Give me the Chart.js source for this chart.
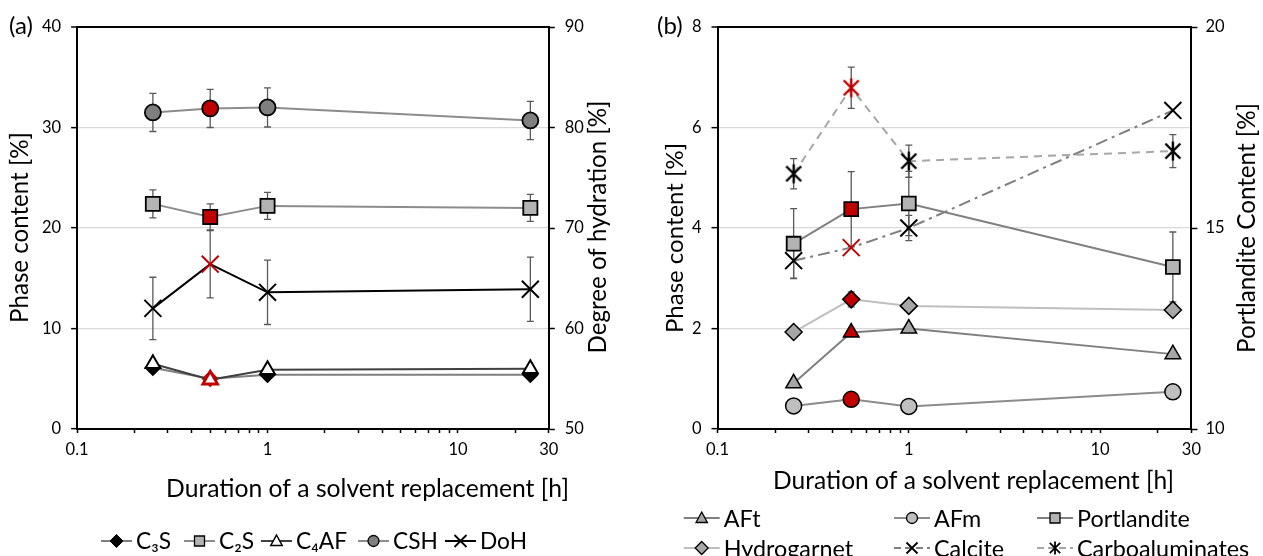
<!DOCTYPE html>
<html><head><meta charset="utf-8">
<script src="https://cdn.jsdelivr.net/npm/chart.js@4"></script>
<style>
html,body{margin:0;padding:0;background:#fff;width:1263px;height:556px;overflow:hidden}
#wa{position:absolute;left:0;top:0;width:631px;height:556px}
#wb{position:absolute;left:631px;top:0;width:632px;height:556px}
</style></head><body>
<div id="wa"><canvas id="ca" width="631" height="556"></canvas></div>
<div id="wb"><canvas id="cb" width="632" height="556"></canvas></div>
<script>
// ---------- data ----------
const durations = [0.25, 0.5, 1, 24];               // h
const xTickValues = [0.1,0.2,0.3,0.4,0.5,0.6,0.7,0.8,0.9,1,2,3,4,5,6,7,8,9,10,20,30];
const xTickLabelled = [0.1, 1, 10, 30];
const yTicksA = [0, 10, 20, 30, 40];
const y2TicksA = [50, 60, 70, 80, 90];
const yTicksB = [0, 2, 4, 6, 8];
const y2TicksB = [10, 15, 20];
const highlightIndex = 1;                            // 0.5 h measurement shown in red

// panel (a)
const c3s = [6.1, 5.0, 5.4, 5.4];
const c2s = [22.4, 21.1, 22.2, 22.0];
const c2sErr = [1.4, 1.3, 1.35, 1.35];
const c4af = [6.5, 4.9, 5.9, 6.0];
const csh = [31.5, 31.9, 32.0, 30.7];
const cshErr = [1.9, 1.9, 1.95, 1.9];
const doh = [62.0, 66.4, 63.6, 63.9];
const dohErr = [3.1, 3.35, 3.2, 3.2];

// panel (b)
const aft = [0.91, 1.92, 2.0, 1.49];
const afm = [0.46, 0.59, 0.45, 0.74];
const portlandite = [14.61, 15.47, 15.61, 14.03];
const portlanditeErr = [0.87, 0.93, 0.8, 0.87];
const hydrogarnet = [1.93, 2.58, 2.45, 2.37];
const hydrogarnetErr = [0, 0.15, 0.1, 0];
const calcite = [3.35, 3.61, 4.0, 6.34];
const calciteErr = [0.35, 0, 0.25, 0];
const carboaluminates = [5.08, 6.79, 5.33, 5.53];
const carboaluminatesErr = [0.3, 0.41, 0.32, 0.33];

const xTitle = 'Duration of a solvent replacement [h]';
const yTitleA = 'Phase content [%]';
const y2TitleA = 'Degree of hydration [%]';
const yTitleB = 'Phase content [%]';
const y2TitleB = 'Portlandite Content [%]';

// ---------- styling helpers ----------
const FAMILY = "Lato, 'Noto Sans', 'DejaVu Sans', sans-serif";
const RED = '#c00000';
Chart.defaults.font.family = FAMILY;
Chart.defaults.color = '#000';

function pts(vals){ return durations.map((x,i)=>({x:x, y:vals[i]})); }
function pp(normal, hl){ return durations.map((_,i)=> i===highlightIndex ? hl : normal); }

function starImg(color){
  const c=document.createElement('canvas'); c.width=22; c.height=22;
  const g=c.getContext('2d'); g.strokeStyle=color; g.lineWidth=2.4;
  g.beginPath(); g.moveTo(3.5,3.5); g.lineTo(18.5,18.5); g.moveTo(18.5,3.5); g.lineTo(3.5,18.5);
  g.moveTo(11,1.5); g.lineTo(11,20.5); g.stroke(); return c;
}

function drawMarker(g, type, x, y, r, fill, stroke, lw){
  g.save(); g.setLineDash([]); g.lineWidth=lw; g.strokeStyle=stroke; g.fillStyle=fill;
  g.beginPath();
  if(type==='circle'){ g.arc(x,y,r,0,Math.PI*2); }
  else if(type==='rect'){ g.rect(x-r,y-r,2*r,2*r); }
  else if(type==='triangle'){ g.moveTo(x,y-r); g.lineTo(x+r*0.95,y+r*0.75); g.lineTo(x-r*0.95,y+r*0.75); g.closePath(); }
  else if(type==='rectRot'){ g.moveTo(x,y-r); g.lineTo(x+r,y); g.lineTo(x,y+r); g.lineTo(x-r,y); g.closePath(); }
  else if(type==='crossRot'){ g.moveTo(x-r,y-r); g.lineTo(x+r,y+r); g.moveTo(x+r,y-r); g.lineTo(x-r,y+r); }
  else if(type==='star'){ g.moveTo(x-r*0.8,y-r*0.8); g.lineTo(x+r*0.8,y+r*0.8); g.moveTo(x+r*0.8,y-r*0.8); g.lineTo(x-r*0.8,y+r*0.8); g.moveTo(x,y-r); g.lineTo(x,y+r); }
  if(type!=='crossRot' && type!=='star') g.fill();
  g.stroke(); g.restore();
}

function fitSize(g, text, w){ g.font = '100px ' + FAMILY; return 100*w/g.measureText(text).width; }

// error bars drawn through the library's scales
const errorBars = {
  id:'errorBars',
  beforeDatasetsDraw(chart){
    const g=chart.ctx, xs=chart.scales.x;
    chart.data.datasets.forEach(ds=>{
      if(!ds.err) return;
      const ys=chart.scales[ds.yAxisID];
      g.save(); g.strokeStyle='#595959'; g.lineWidth=1.3; g.setLineDash([]);
      ds.data.forEach((p,i)=>{
        const e=ds.err[i]; if(!e) return;
        const px=xs.getPixelForValue(p.x), t=ys.getPixelForValue(p.y+e), b=ys.getPixelForValue(p.y-e);
        g.beginPath(); g.moveTo(px,t); g.lineTo(px,b);
        g.moveTo(px-3.5,t); g.lineTo(px+3.5,t); g.moveTo(px-3.5,b); g.lineTo(px+3.5,b); g.stroke();
      });
      g.restore();
    });
  }
};

// titles, panel letters and legend
const decor = {
  id:'decor',
  afterDraw(chart, args, o){
    const g=chart.ctx;
    g.save(); g.fillStyle='#000';
    g.font = o.panelSize+'px '+FAMILY; g.textAlign='left'; g.textBaseline='middle';
    g.fillText(o.panel, o.panelX, o.panelY);
    g.textBaseline='alphabetic'; g.textAlign='center';
    let s=fitSize(g, xTitle, o.xTitleW); g.font=s+'px '+FAMILY; g.fillText(xTitle, o.xTitleX, o.xTitleY);
    o.yTitles.forEach(t=>{
      const sz=fitSize(g, t.text, t.w);
      g.save(); g.translate(t.x, t.y); g.rotate(-Math.PI/2); g.font=sz+'px '+FAMILY; g.fillText(t.text,0,0); g.restore();
    });
    // legend
    const ls = fitSize(g, o.legendFit.text, o.legendFit.w);
    o.legend.forEach(it=>{
      const ds=chart.data.datasets[it.ds], lg=ds.lg;
      g.save(); g.strokeStyle=ds.borderColor; g.lineWidth=2; g.setLineDash(lg.dash||[]);
      g.beginPath(); g.moveTo(it.x, it.y); g.lineTo(it.x+o.iconW, it.y); g.stroke(); g.restore();
      drawMarker(g, lg.type, it.x+o.iconW/2, it.y, lg.r, lg.fill, lg.stroke, lg.lw);
      g.font=ls+'px '+FAMILY; g.textAlign='left'; g.textBaseline='middle';
      g.fillText(ds.label, it.x+o.iconW+o.gap, it.y+1);
    });
    g.restore();
  }
};

function xScale(){
  return {
    type:'logarithmic', min:0.1, max:30,
    afterBuildTicks:(s)=>{ s.ticks = xTickValues.map(v=>({value:v, major:xTickLabelled.includes(v)})); },
    ticks:{ autoSkip:false, maxRotation:0, minRotation:0, padding:7, font:{size:16.5}, color:'#000',
      callback:(v)=> xTickLabelled.some(t=>Math.abs(t-v)<1e-9) ? String(v) : '' },
    grid:{ drawOnChartArea:false, drawTicks:true, tickLength:4, tickColor:'#000', tickWidth:1.5 },
    border:{ color:'#000', width:2 },
    afterFit:(s)=>{ s.height = 127; }
  };
}
function yScale(pos, min, max, tickVals, width, gridOn, pad){
  return {
    type:'linear', position:pos, min:min, max:max,
    afterBuildTicks:(s)=>{ s.ticks = tickVals.map(v=>({value:v})); },
    ticks:{ padding:pad, font:{size:16.5}, color:'#000' },
    grid: gridOn ? {
      drawOnChartArea:true, drawTicks:true, tickLength:6, tickColor:'#000', tickWidth:1.5,
      color:(c)=> c.tick ? (c.tick.value===max ? '#000' : (c.tick.value===min ? 'rgba(0,0,0,0)' : '#d9d9d9')) : '#d9d9d9',
      lineWidth:(c)=> c.tick && c.tick.value===max ? 2 : 1.3
    } : { drawOnChartArea:false, drawTicks:true, tickLength:6, tickColor:'#000', tickWidth:1.5 },
    border:{ color:'#000', width:2 },
    afterFit:(s)=>{ s.width = width; }
  };
}
function baseOptions(scales, decorOpts){
  return {
    responsive:false, animation:false, events:[],
    layout:{ padding:{ top:27, left:0, right:0, bottom:0 } },
    plugins:{ legend:{display:false}, tooltip:{enabled:false}, decor:decorOpts },
    scales:scales,
    elements:{ line:{ tension:0, borderWidth:2 } }
  };
}

// ---------- panel (a) ----------
const dsA = [
  { label:'C\u2083S', data:pts(c3s), yAxisID:'y', order:5, borderColor:'#7f7f7f',
    pointStyle:'rectRot', pointRadius:7.5, pointBorderWidth:1.5,
    pointBackgroundColor:pp('#000',RED), pointBorderColor:pp('#000',RED),
    lg:{type:'rectRot', r:6.5, fill:'#000', stroke:'#000', lw:1} },
  { label:'C\u2082S', data:pts(c2s), err:c2sErr, yAxisID:'y', order:3, borderColor:'#8c8c8c',
    pointStyle:'rect', pointRadius:10, pointBorderWidth:1.8,
    pointBackgroundColor:pp('#b3b3b3',RED), pointBorderColor:'#000',
    lg:{type:'rect', r:5, fill:'#b3b3b3', stroke:'#000', lw:1.3} },
  { label:'C\u2084AF', data:pts(c4af), yAxisID:'y', order:4, borderColor:'#404040',
    pointStyle:'triangle', pointRadius:8.5, pointBorderWidth:pp(2,2.8),
    pointBackgroundColor:'#fff', pointBorderColor:pp('#000',RED),
    lg:{type:'triangle', r:6, fill:'#fff', stroke:'#000', lw:1.5} },
  { label:'CSH', data:pts(csh), err:cshErr, yAxisID:'y', order:2, borderColor:'#8c8c8c',
    pointStyle:'circle', pointRadius:8, pointBorderWidth:1.8,
    pointBackgroundColor:pp('#7f7f7f',RED), pointBorderColor:'#000',
    lg:{type:'circle', r:5.5, fill:'#7f7f7f', stroke:'#000', lw:1.3} },
  { label:'DoH', data:pts(doh), err:dohErr, yAxisID:'y2', order:1, borderColor:'#000',
    pointStyle:'crossRot', pointRadius:12, pointBorderWidth:2,
    pointBackgroundColor:pp('#000',RED), pointBorderColor:pp('#000',RED),
    lg:{type:'crossRot', r:6, fill:'#000', stroke:'#000', lw:1.8} }
];
new Chart(document.getElementById('ca'), {
  type:'line',
  data:{ datasets:dsA },
  options: baseOptions({
      x:xScale(),
      y:yScale('left',0,40,yTicksA,77.1,true,10),
      y2:yScale('right',50,90,y2TicksA,631-548.8,false,10)
    }, {
      panel:'(a)', panelSize:24, panelX:9, panelY:26,
      xTitleX:367.5, xTitleY:497, xTitleW:403,
      yTitles:[ {text:yTitleA, x:27.5, y:227.5, w:191}, {text:y2TitleA, x:606, y:227, w:253} ],
      legendFit:{text:'C\u2084AF', w:51},
      iconW:31, gap:4,
      legend:[ {ds:0,x:101,y:541}, {ds:1,x:184,y:541}, {ds:2,x:261,y:541}, {ds:3,x:358,y:541}, {ds:4,x:445,y:541} ]
    }),
  plugins:[errorBars, decor]
});

// ---------- panel (b) ----------
const starBlack = starImg('#000'), starRed = starImg(RED);
const dsB = [
  { label:'AFt', data:pts(aft), yAxisID:'y', order:4, borderColor:'#7f7f7f',
    pointStyle:'triangle', pointRadius:9, pointBorderWidth:1.5,
    pointBackgroundColor:pp('#a6a6a6',RED), pointBorderColor:'#000',
    lg:{type:'triangle', r:6, fill:'#a6a6a6', stroke:'#000', lw:1.3} },
  { label:'AFm', data:pts(afm), yAxisID:'y', order:5, borderColor:'#8c8c8c',
    pointStyle:'circle', pointRadius:8, pointBorderWidth:1.5,
    pointBackgroundColor:pp('#bfbfbf',RED), pointBorderColor:'#000',
    lg:{type:'circle', r:5.5, fill:'#bfbfbf', stroke:'#000', lw:1.3} },
  { label:'Portlandite', data:pts(portlandite), err:portlanditeErr, yAxisID:'y2', order:1, borderColor:'#808080',
    pointStyle:'rect', pointRadius:9.8, pointBorderWidth:1.8,
    pointBackgroundColor:pp('#b3b3b3',RED), pointBorderColor:'#000',
    lg:{type:'rect', r:5, fill:'#b3b3b3', stroke:'#000', lw:1.3} },
  { label:'Hydrogarnet', data:pts(hydrogarnet), err:hydrogarnetErr, yAxisID:'y', order:3, borderColor:'#bfbfbf',
    pointStyle:'rectRot', pointRadius:8.5, pointBorderWidth:1.5,
    pointBackgroundColor:pp('#a6a6a6',RED), pointBorderColor:'#000',
    lg:{type:'rectRot', r:6.5, fill:'#a6a6a6', stroke:'#000', lw:1.3} },
  { label:'Calcite', data:pts(calcite), err:calciteErr, yAxisID:'y', order:2, borderColor:'#7f7f7f', borderDash:[12,5,3,5],
    pointStyle:'crossRot', pointRadius:12, pointBorderWidth:2,
    pointBackgroundColor:pp('#000',RED), pointBorderColor:pp('#000',RED),
    lg:{type:'crossRot', r:5.5, fill:'#000', stroke:'#000', lw:1.8, dash:[7,4]} },
  { label:'Carboaluminates', data:pts(carboaluminates), err:carboaluminatesErr, yAxisID:'y', order:0, borderColor:'#a6a6a6', borderDash:[8,6],
    pointStyle:pp(starBlack, starRed), pointRadius:11, pointBorderWidth:2,
    pointBackgroundColor:pp('#000',RED), pointBorderColor:pp('#000',RED),
    lg:{type:'star', r:6.5, fill:'#000', stroke:'#000', lw:1.8, dash:[7,4]} }
];
new Chart(document.getElementById('cb'), {
  type:'line',
  data:{ datasets:dsB },
  options: baseOptions({
      x:xScale(),
      y:yScale('left',0,8,yTicksB,717.5-631,true,10),
      y2:yScale('right',10,20,y2TicksB,632-(1191.4-631),false,8)
    }, {
      panel:'(b)', panelSize:24, panelX:26, panelY:26,
      xTitleX:342.5, xTitleY:488.5, xTitleW:401,
      yTitles:[ {text:yTitleB, x:52, y:238, w:190}, {text:y2TitleB, x:624, y:228, w:250} ],
      legendFit:{text:'Portlandite', w:113},
      iconW:36, gap:4,
      legend:[ {ds:0,x:52.7,y:518}, {ds:1,x:263,y:518}, {ds:2,x:406,y:518},
               {ds:3,x:52.7,y:548}, {ds:4,x:263,y:548}, {ds:5,x:406,y:548} ]
    }),
  plugins:[errorBars, decor]
});
</script>
</body></html>
